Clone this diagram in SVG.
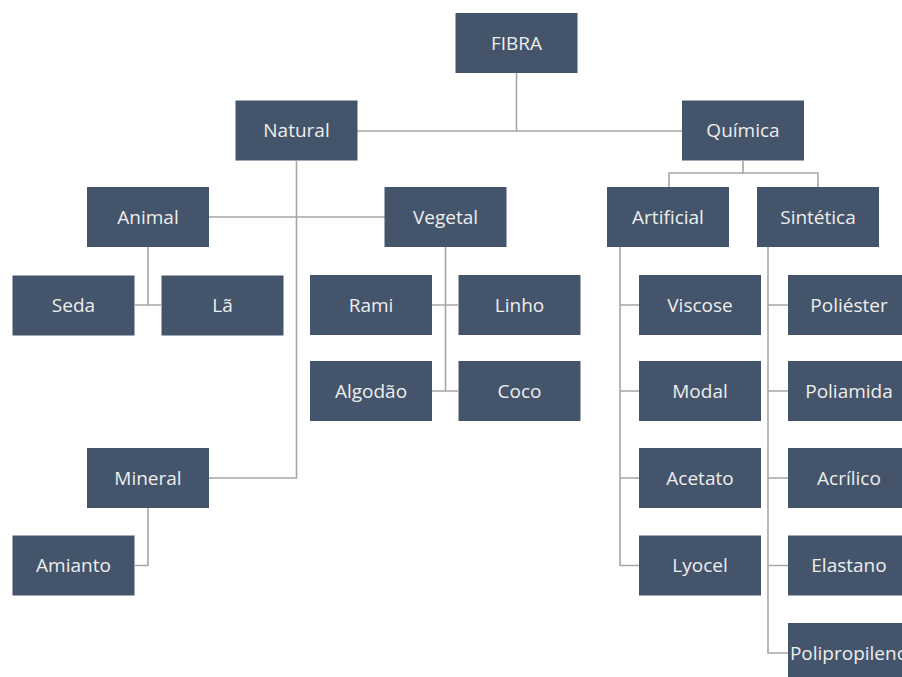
<svg xmlns="http://www.w3.org/2000/svg" width="902" height="677" viewBox="0 0 902 677">
<style>
.box{fill:#44546a}
.lbl{fill:#eeeeee;font-family:"Open Sans","Liberation Sans",sans-serif;font-size:19px;text-anchor:middle}
.ln{stroke:#a6a6a6;stroke-width:1.6;fill:none}
</style>
<rect width="902" height="677" fill="#ffffff"/>
<g id="connectors">
<path class="ln" d="M516.5 73 V131 M357 131 H682"/>
<path class="ln" d="M296.5 161 V478 H209"/>
<path class="ln" d="M209 217 H385"/>
<path class="ln" d="M148 247 V305 M135 305 H161"/>
<path class="ln" d="M445.5 247 V391 M432 305 H458 M432 391 H458"/>
<path class="ln" d="M148 508 V565.5 H135"/>
<path class="ln" d="M743 161 V173 M669 187 V173 H818 V187"/>
<path class="ln" d="M620 247 V565.5 H639 M620 305 H639 M620 391 H639 M620 478 H639"/>
<path class="ln" d="M768 247 V653 H788 M768 305 H788 M768 391 H788 M768 478 H788 M768 565.5 H788"/>
</g>
<g id="fibra"><rect class="box" x="455.5" y="13" width="122" height="60"/><text class="lbl" x="516.5" y="49.5">FIBRA</text></g>
<g id="natural"><rect class="box" x="235.5" y="100.5" width="122" height="60"/><text class="lbl" x="296.5" y="137">Natural</text></g>
<g id="quimica"><rect class="box" x="682" y="100.5" width="122" height="60"/><text class="lbl" x="743" y="137">Química</text></g>
<g id="animal"><rect class="box" x="87" y="187" width="122" height="60"/><text class="lbl" x="148" y="223.5">Animal</text></g>
<g id="vegetal"><rect class="box" x="384.5" y="187" width="122" height="60"/><text class="lbl" x="445.5" y="223.5">Vegetal</text></g>
<g id="artificial"><rect class="box" x="607" y="187" width="122" height="60"/><text class="lbl" x="668" y="223.5">Artificial</text></g>
<g id="sintetica"><rect class="box" x="757" y="187" width="122" height="60"/><text class="lbl" x="818" y="223.5">Sintética</text></g>
<g id="seda"><rect class="box" x="12.5" y="275.5" width="122" height="60"/><text class="lbl" x="73.5" y="312">Seda</text></g>
<g id="la"><rect class="box" x="161.5" y="275.5" width="122" height="60"/><text class="lbl" x="222.5" y="312">Lã</text></g>
<g id="rami"><rect class="box" x="310" y="275" width="122" height="60"/><text class="lbl" x="371" y="311.5">Rami</text></g>
<g id="linho"><rect class="box" x="458.5" y="275" width="122" height="60"/><text class="lbl" x="519.5" y="311.5">Linho</text></g>
<g id="algodao"><rect class="box" x="310" y="361" width="122" height="60"/><text class="lbl" x="371" y="397.5">Algodão</text></g>
<g id="coco"><rect class="box" x="458.5" y="361" width="122" height="60"/><text class="lbl" x="519.5" y="397.5">Coco</text></g>
<g id="viscose"><rect class="box" x="639" y="275" width="122" height="60"/><text class="lbl" x="700" y="311.5">Viscose</text></g>
<g id="poliester"><rect class="box" x="788" y="275" width="122" height="60"/><text class="lbl" x="849" y="311.5">Poliéster</text></g>
<g id="modal"><rect class="box" x="639" y="361" width="122" height="60"/><text class="lbl" x="700" y="397.5">Modal</text></g>
<g id="poliamida"><rect class="box" x="788" y="361" width="122" height="60"/><text class="lbl" x="849" y="397.5">Poliamida</text></g>
<g id="acetato"><rect class="box" x="639" y="448" width="122" height="60"/><text class="lbl" x="700" y="484.5">Acetato</text></g>
<g id="acrilico"><rect class="box" x="788" y="448" width="122" height="60"/><text class="lbl" x="849" y="484.5">Acrílico</text></g>
<g id="lyocel"><rect class="box" x="639" y="535.5" width="122" height="60"/><text class="lbl" x="700" y="572">Lyocel</text></g>
<g id="elastano"><rect class="box" x="788" y="535.5" width="122" height="60"/><text class="lbl" x="849" y="572">Elastano</text></g>
<g id="polipropileno"><rect class="box" x="788" y="623" width="122" height="60"/><text class="lbl" x="849" y="659.5">Polipropileno</text></g>
<g id="mineral"><rect class="box" x="87" y="448" width="122" height="60"/><text class="lbl" x="148" y="484.5">Mineral</text></g>
<g id="amianto"><rect class="box" x="12.5" y="535.5" width="122" height="60"/><text class="lbl" x="73.5" y="572">Amianto</text></g>
</svg>
